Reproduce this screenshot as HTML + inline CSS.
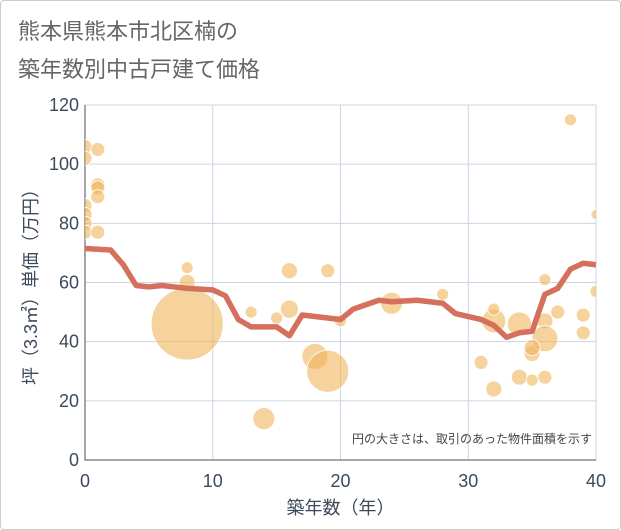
<!DOCTYPE html>
<html><head><meta charset="utf-8"><style>
body{margin:0;background:#fff;}
#wrap{position:relative;width:619px;height:528px;border:1px solid #ccc;border-radius:4px;background:#fff;font-family:"Liberation Sans","Noto Sans CJK JP",sans-serif;}
.t{position:absolute;left:17px;font-size:22px;color:#666;line-height:1;}
</style></head><body>
<div id="wrap">
<div class="t" style="top:20px">熊本県熊本市北区楠の</div>
<div class="t" style="top:58px">築年数別中古戸建て価格</div>
<svg id="c" width="621" height="530" style="position:absolute;left:-1px;top:-1px" font-family="Liberation Sans, Noto Sans CJK JP, sans-serif"><defs><clipPath id="pc"><rect x="85" y="105" width="511" height="355"/></clipPath></defs></svg>
</div>
<script>
const xTicks=[0,10,20,30,40];
const yTicks=[0,20,40,60,80,100,120];
const lineX=[0,2,3,4,5,6,7,8,10,11,12,13,15,16,17,18,20,21,23,24,26,28,29,31,32,33,34,35,36,37,38,39,40];
const lineY=[71.5,71,66,59,58.5,59,58.5,58,57.5,55.5,47.5,45,45,42,49,48.5,47.5,51,54,53.5,54,53,49.5,47.5,45.5,41.5,43,43.5,56,58,64.5,66.5,66];
const bubX=[0,0,1,1,1,1,0,0,0,0,1,8,8,8,13,14,15,16,16,18,19,19,20,24,28,31,32,32,32,34,34,35,35,36,36,36,36,37,38,39,39,40,40,35];
const bubY=[106,102,105,93,92,89,86,83,80,77,77,65,60,46,50,14,48,51,64,35,64,30,47,53,56,33,24,47,51,46,28,36,27,47,41,28,61,50,115,49,43,83,57,38];
const bubSize=[49,49,49,49,49,49,49,49,49,49,49,36,64,1296,36,121,36,81,64,169,49,441,36,121,36,49,64,144,36,144,64,64,36,64,169,49,36,49,36,49,49,25,36,64];
const X0=85,X1=596,Y0=460,Y1=105;
const sx=v=>X0+(v-0)/(40-0)*(X1-X0);
const sy=v=>Y0-(v-0)/(120-0)*(Y0-Y1);
const svg=document.getElementById('c');const NS='http://www.w3.org/2000/svg';
function mk(tag,attrs,parent){const e=document.createElementNS(NS,tag);for(const k in attrs)e.setAttribute(k,attrs[k]);(parent||svg).appendChild(e);return e;}
const grid=mk('g',{});


xTicks.forEach(t=>{const l=mk('line',{x1:sx(t),x2:sx(t),y1:Y1,y2:Y0,stroke:'#c9d5e3','stroke-width':1},grid);


const tx=mk('text',{x:sx(t),y:487,'text-anchor':'middle','font-size':18,fill:'#3c4a5c'});tx.textContent=t;

});
yTicks.forEach(t=>{const l=mk('line',{x1:X0,x2:X1,y1:sy(t),y2:sy(t),stroke:'#c9d5e3','stroke-width':1},grid);


const tx=mk('text',{x:79,y:sy(t)+6,'text-anchor':'end','font-size':18,fill:'#3c4a5c'});tx.textContent=t;

});
const ax=mk('path',{d:`M${X0} ${Y1}V${Y0}H${X1}`,fill:'none',stroke:'#888','stroke-width':1.5});


const bg=mk('g',{'clip-path':'url(#pc)'});


bubX.forEach((v,i)=>{const c=mk('circle',{cx:sx(v),cy:sy(bubY[i]),r:Math.sqrt(bubSize[i]),fill:'rgba(240,180,90,0.6)',stroke:'#fff','stroke-width':0.8},bg);

});
const p=mk('polyline',{points:lineX.map((v,i)=>sx(v)+','+sy(lineY[i])).join(' '),fill:'none',stroke:'#d4705c','stroke-width':5.5,'stroke-linejoin':'round'});


const xt=mk('text',{x:sx(20),y:514,'text-anchor':'middle','font-size':18,fill:'#3c4a5c'});xt.textContent='築年数（年）';


const yt=mk('text',{x:0,y:0,'text-anchor':'middle','font-size':18,fill:'#3c4a5c',transform:`translate(37,${sy(60)}) rotate(-90)`});yt.textContent='坪（3.3㎡）単価（万円）';


const nt=mk('text',{x:592,y:443,'text-anchor':'end','font-size':12,fill:'#444'});nt.textContent='円の大きさは、取引のあった物件面積を示す';


</script>
</body></html>
